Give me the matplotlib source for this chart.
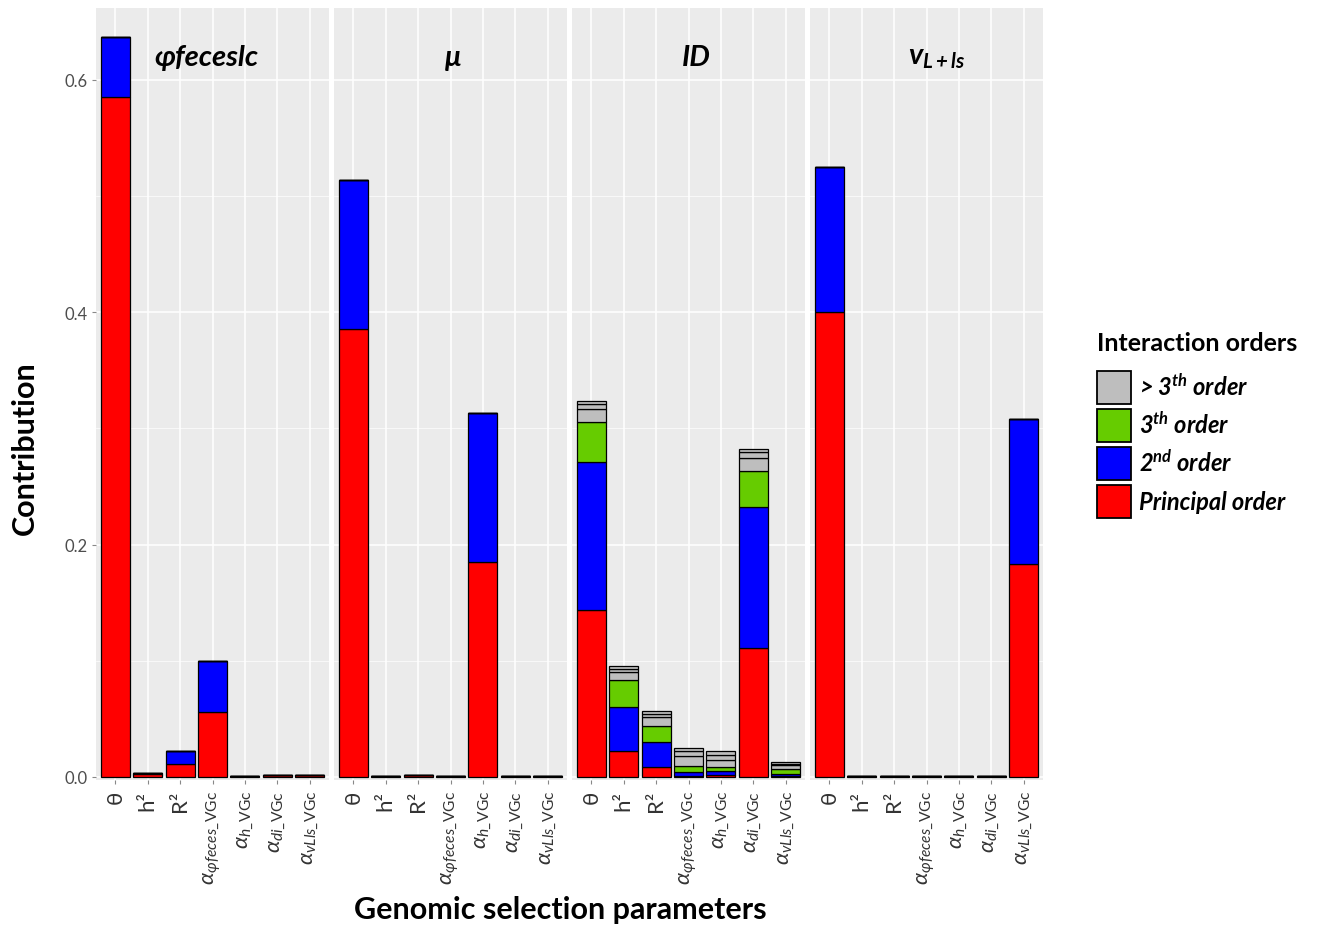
import matplotlib
matplotlib.use("Agg")
import matplotlib.pyplot as plt
from matplotlib.patches import Patch
import numpy as np

plt.rcParams['font.family'] = ['Lato', 'DejaVu Sans']
plt.rcParams['mathtext.fontset'] = 'custom'
plt.rcParams['mathtext.rm'] = 'Lato'
plt.rcParams['mathtext.it'] = 'Lato:italic'
plt.rcParams['mathtext.sf'] = 'Lato:italic'
plt.rcParams['mathtext.bf'] = 'Lato:bold:italic'
plt.rcParams['mathtext.fallback'] = 'stixsans'

# Parameters on the x axis of every facet
param_labels = ['θ', 'h²', 'R²',
                r'$\alpha_{\mathsf{\varphi feces\_}\mathrm{VGc}}$',
                r'$\alpha_{\mathsf{h\_}\mathrm{VGc}}$',
                r'$\alpha_{\mathsf{di\_}\mathrm{VGc}}$',
                r'$\alpha_{\mathsf{vLls\_}\mathrm{VGc}}$']

# Facet titles (outputs)
facet_titles = ['φfeceslc', 'μ', 'ID', r'$\mathbf{v_{L+ls}}$']

# Sensitivity contributions by interaction order, one list per facet
principal = [
    [0.585, 0.0025, 0.011, 0.056, 0.0008, 0.0015, 0.0015],
    [0.386, 0.0005, 0.0015, 0.0005, 0.185, 0.0005, 0.0005],
    [0.1438, 0.0221, 0.0086, 0.0010, 0.0020, 0.1107, 0.0006],
    [0.400, 0.0005, 0.0005, 0.0005, 0.0005, 0.0005, 0.183],
]
second = [
    [0.052, 0.0007, 0.011, 0.044, 0.0004, 0.0005, 0.0005],
    [0.128, 0.0, 0.0005, 0.0, 0.128, 0.0, 0.0],
    [0.1276, 0.0382, 0.0213, 0.0030, 0.0029, 0.1214, 0.0023],
    [0.125, 0.0, 0.0, 0.0, 0.0, 0.0, 0.125],
]
third = [
    [0, 0, 0, 0, 0, 0, 0],
    [0, 0, 0, 0, 0, 0, 0],
    [0.0340, 0.0232, 0.0137, 0.0058, 0.0035, 0.0316, 0.0042],
    [0, 0, 0, 0, 0, 0, 0],
]
# Higher orders (4th, 5th, 6th), all drawn as "> 3th order"
fourth = [
    [0, 0, 0, 0, 0, 0, 0],
    [0, 0, 0, 0, 0, 0, 0],
    [0.0115, 0.0066, 0.0077, 0.0086, 0.0063, 0.0107, 0.0030],
    [0, 0, 0, 0, 0, 0, 0],
]
fifth = [
    [0, 0, 0, 0, 0, 0, 0],
    [0, 0, 0, 0, 0, 0, 0],
    [0.0043, 0.0029, 0.0029, 0.0038, 0.0043, 0.0052, 0.0015],
    [0, 0, 0, 0, 0, 0, 0],
]
sixth = [
    [0, 0, 0, 0, 0, 0, 0],
    [0, 0, 0, 0, 0, 0, 0],
    [0.0028, 0.0028, 0.0028, 0.0026, 0.0032, 0.0029, 0.0010],
    [0, 0, 0, 0, 0, 0, 0],
]

legend_labels = [r'> $\mathbf{3^{th}}$ order', r'$\mathbf{3^{th}}$ order',
                 r'$\mathbf{2^{nd}}$ order', 'Principal order']

RED, BLUE, GREEN, GREY = '#FF0000', '#0000FF', '#66CC00', '#BEBEBE'
layers = [(principal, RED), (second, BLUE), (third, GREEN),
          (fourth, GREY), (fifth, GREY), (sixth, GREY)]

fig = plt.figure(figsize=(13.25, 9.28), dpi=100)
W, H = 1325, 928
left0, step, pw = 96, 238, 233
top_px, bot_px = 9.3, 781
title_x = [0.475, 0.51, 0.535, 0.544]

x = np.arange(len(param_labels))
axes = []
for i in range(4):
    ax = fig.add_axes([(left0 + i * step) / W, 1 - bot_px / H,
                       pw / W, (bot_px - top_px) / H])
    ax.set_facecolor('#EBEBEB')
    ax.set_axisbelow(True)
    bottom = np.zeros(len(x))
    for data, col in layers:
        vals = np.array(data[i], dtype=float)
        ax.bar(x, vals, width=0.9, bottom=bottom, color=col,
               edgecolor='black', linewidth=0.9)
        bottom += vals
    ax.set_xlim(-0.6, 6.6)
    ax.set_ylim(-0.0026, 0.6617)
    ax.set_yticks([0.0, 0.2, 0.4, 0.6])
    ax.set_yticks([0.1, 0.3, 0.5], minor=True)
    ax.grid(which='major', color='white', linewidth=1.1)
    ax.grid(which='minor', axis='y', color='white', linewidth=0.5)
    for s in ax.spines.values():
        s.set_visible(False)
    ax.set_xticks(x)
    ax.set_xticklabels(param_labels, rotation=90, fontsize=16, color='#333333')
    ax.tick_params(axis='x', length=3, color='#888888', pad=4)
    ax.tick_params(axis='y', which='minor', length=0)
    if i == 0:
        ax.set_yticklabels(['0.0', '0.2', '0.4', '0.6'], fontsize=12,
                           color='#4D4D4D')
        ax.tick_params(axis='y', length=3, color='#888888', pad=3)
    else:
        ax.tick_params(axis='y', length=0, labelleft=False)
    ax.text(title_x[i], 0.937, facet_titles[i], transform=ax.transAxes,
            ha='center', va='center', fontsize=21, fontweight='bold',
            fontstyle='italic')
    axes.append(ax)

fig.text(25 / W, 1 - 448 / H, 'Contribution', rotation=90, ha='center',
         va='center', fontsize=22, fontweight='bold')
fig.text(560 / W, 1 - 910 / H, 'Genomic selection parameters', ha='center',
         va='center', fontsize=22, fontweight='bold')

handles = [Patch(facecolor=c, edgecolor='black', linewidth=1.3)
           for c in [GREY, GREEN, BLUE, RED]]
leg = fig.legend(handles, legend_labels, loc='upper left',
                 bbox_to_anchor=(1097 / W, 1 - 332 / H), frameon=False,
                 title='Interaction orders', handlelength=1.44,
                 handleheight=1.8, handletextpad=0.35, labelspacing=0.2,
                 borderpad=0, borderaxespad=0,
                 prop={'size': 17, 'weight': 'bold', 'style': 'italic'},
                 title_fontproperties={'size': 18, 'weight': 'bold'})
leg._legend_box.align = 'left'
leg._legend_box.sep = 12

fig.savefig('out.png', dpi=100)
